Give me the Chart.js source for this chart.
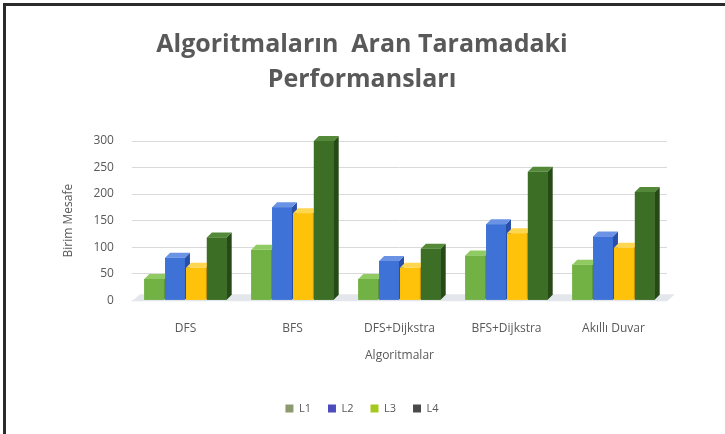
<!DOCTYPE html>
<html>
<head>
<meta charset="utf-8">
<script src="https://cdn.jsdelivr.net/npm/chart.js@4.4.0/dist/chart.umd.min.js"></script>
<style>
  html, body { margin: 0; padding: 0; background: #fff; }
  #wrap { position: relative; width: 725px; height: 434px; }
  #frame { position: absolute; left: 3px; top: 3px; right: 0; bottom: 0;
           border-top: 3px solid #2b2b2b; border-left: 3px solid #2b2b2b; pointer-events: none; }
</style>
</head>
<body>
<div id="wrap">
  <canvas id="barchart" width="725" height="434"></canvas>
  <div id="frame"></div>
</div>
<script>
const categories = ['DFS', 'BFS', 'DFS+Dijkstra', 'BFS+Dijkstra', 'Akıllı Duvar'];
const seriesNames = ['L1', 'L2', 'L3', 'L4'];
const l1 = [40, 95, 40, 84, 67];
const l2 = [80, 175, 74, 143, 120];
const l3 = [61, 164, 61, 126, 99];
const l4 = [118, 300, 97, 242, 204];
const yTicks = [0, 50, 100, 150, 200, 250, 300];

const front = ['#72b244', '#3f72d6', '#ffc20a', '#3c6e25'];
const side = ['#4f8a2a', '#2a4fa8', '#d49a00', '#264a15'];
const top_ = ['#8fcb62', '#6a93e6', '#ffd650', '#55893a'];
const swatch = ['#8c9a6e', '#4c4cbc', '#a6c81e', '#4a4a4a'];

const depth = 5;

// fake 3D look: redraw bars L1 -> L4 with a right side and a top cap
const bars3d = {
    id: 'bars3d',
    beforeDatasetsDraw(chart) {
        const c = chart.ctx;
        const a = chart.chartArea;
        const b = chart.scales.y.getPixelForValue(0);
        c.save();
        c.fillStyle = '#e3e6eb';
        c.beginPath();
        c.moveTo(a.left, b + 1); c.lineTo(a.left + 8, b - 6);
        c.lineTo(a.right + 8, b - 6); c.lineTo(a.right, b + 1);
        c.closePath(); c.fill();
        c.restore();
    },
    afterDatasetsDraw(chart) {
        const c = chart.ctx;
        chart.data.datasets.forEach((ds, i) => {
            chart.getDatasetMeta(i).data.forEach(bar => {
                const w = bar.width;
                const l = bar.x - w / 2, r = bar.x + w / 2;
                const t = bar.y, b = bar.base;
                c.save();
                c.fillStyle = front[i];
                c.fillRect(l, t, w, b - t);
                c.fillStyle = side[i];
                c.beginPath();
                c.moveTo(r, t); c.lineTo(r + depth, t - depth);
                c.lineTo(r + depth, b - depth); c.lineTo(r, b);
                c.closePath(); c.fill();
                c.fillStyle = top_[i];
                c.beginPath();
                c.moveTo(l, t); c.lineTo(l + depth, t - depth);
                c.lineTo(r + depth, t - depth); c.lineTo(r, t);
                c.closePath(); c.fill();
                c.restore();
            });
        });
    }
};

const ctx = document.getElementById('barchart').getContext('2d');
const seriesData = [l1, l2, l3, l4];

const barchart = new Chart(ctx, {
    type: 'bar',
    data: {
        labels: categories,
        datasets: seriesNames.map((name, i) => ({
            label: name,
            data: seriesData[i],
            backgroundColor: front[i],
            borderWidth: 0,
            categoryPercentage: 0.78,
            barPercentage: 0.95
        }))
    },
    plugins: [bars3d],
    options: {
        responsive: false,
        animation: false,
        layout: { padding: { left: 57, right: 58, top: 27, bottom: 10 } },
        scales: {
            x: {
                grid: { display: false },
                border: { display: false },
                ticks: { color: '#595959', font: { family: 'Open Sans', size: 12 }, padding: 13 },
                title: {
                    display: true, text: 'Algoritmalar', color: '#595959',
                    font: { family: 'Open Sans', size: 12 }, padding: { top: 0, bottom: 23 }
                }
            },
            y: {
                min: 0, max: 300,
                afterBuildTicks(axis) { axis.ticks = yTicks.map(v => ({ value: v })); },
                grid: { color: '#d9d9d9', drawTicks: false },
                border: { display: false },
                ticks: { color: '#595959', font: { family: 'Open Sans', size: 12 }, padding: 18 },
                title: {
                    display: true, text: 'Birim Mesafe', color: '#595959',
                    font: { family: 'Open Sans', size: 12 }, padding: { bottom: 0 }
                }
            }
        },
        plugins: {
            title: {
                display: true,
                text: ['Algoritmaların  Aran Taramadaki', 'Performansları'],
                color: '#595959',
                font: { family: 'Open Sans', size: 25, weight: 'bold', lineHeight: 1.4 },
                padding: { top: 0, bottom: 44 }
            },
            legend: {
                position: 'bottom',
                labels: {
                    color: '#595959',
                    font: { family: 'Open Sans', size: 11 },
                    boxWidth: 8, boxHeight: 8, padding: 17,
                    generateLabels: () => seriesNames.map((n, i) => ({
                        text: n, fillStyle: swatch[i], strokeStyle: swatch[i],
                        lineWidth: 0, datasetIndex: i, fontColor: '#595959'
                    }))
                }
            },
            tooltip: { enabled: false }
        }
    }
});
</script>
</body>
</html>
